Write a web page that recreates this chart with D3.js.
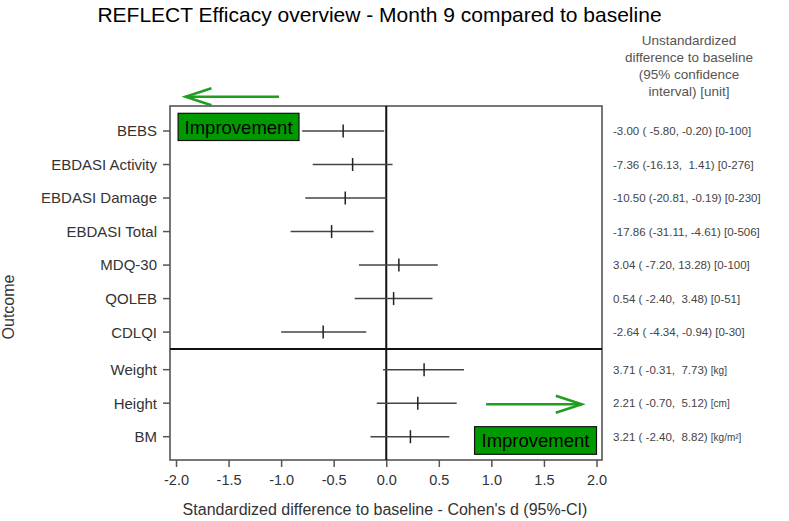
<!DOCTYPE html>
<html><head><meta charset="utf-8">
<script src="https://cdn.jsdelivr.net/npm/d3@7"></script>
<style>
body{margin:0;background:#fff;}
svg text{font-family:"Liberation Sans",Arial,sans-serif;}
</style></head>
<body><svg id="c" width="789" height="521"></svg>
<script>
const outcomes = ["BEBS","EBDASI Activity","EBDASI Damage","EBDASI Total","MDQ-30","QOLEB","CDLQI","Weight","Height","BM"];
const groups = [0,0,0,0,0,0,0,1,1,1];
const estimate = [-0.41,-0.32,-0.39,-0.52,0.12,0.07,-0.60,0.36,0.30,0.23];
const ciLow  = [-0.80,-0.70,-0.77,-0.91,-0.26,-0.30,-1.00,-0.03,-0.09,-0.15];
const ciHigh = [-0.02,0.06,0.00,-0.12,0.49,0.44,-0.19,0.74,0.67,0.60];
const unstdText = ["-3.00 ( -5.80, -0.20) [0-100]","-7.36 (-16.13,  1.41) [0-276]","-10.50 (-20.81, -0.19) [0-230]","-17.86 (-31.11, -4.61) [0-506]","3.04 ( -7.20, 13.28) [0-100]","0.54 ( -2.40,  3.48) [0-51]","-2.64 ( -4.34, -0.94) [0-30]","3.71 ( -0.31,  7.73) ","2.21 ( -0.70,  5.12) ","3.21 ( -2.40,  8.82) "];
const unitText = ["","","","","","","","[kg]","[cm]","[kg/m²]"];
const xTicks = [-2.0,-1.5,-1.0,-0.5,0.0,0.5,1.0,1.5,2.0];
const headerLines = ["Unstandardized","difference to baseline","(95% confidence","interval) [unit]"];

const svg = d3.select("#c");
const frame = {l:170,r:602,t:106,b:460};
const x = d3.scaleLinear().domain([-2,2]).range([176,596.5]);
const GAP = 0.12;
const pos = (i)=> i + groups[i]*GAP;
const y = d3.scaleLinear().domain([0, 9+GAP]).range([131, 436.7]);

// title
svg.append("text").attr("x",379.5).attr("y",22).attr("text-anchor","middle")
  .attr("font-size",21).attr("fill","#000").text("REFLECT Efficacy overview - Month 9 compared to baseline");

// header right
svg.append("g").selectAll("text").data(headerLines).join("text")
  .attr("x",689).attr("y",(d,i)=>[45,62,79,95.5][i]).attr("text-anchor","middle")
  .attr("font-size",13.5).attr("fill","#555").text(d=>d);

// frame
svg.append("rect").attr("x",frame.l).attr("y",frame.t).attr("width",frame.r-frame.l).attr("height",frame.b-frame.t)
  .attr("fill","none").attr("stroke","#555").attr("stroke-width",1.6);

// separator
svg.append("line").attr("x1",frame.l).attr("x2",frame.r).attr("y1",y(6.5)).attr("y2",y(6.5))
  .attr("stroke","#111").attr("stroke-width",2);
// zero line
svg.append("line").attr("x1",x(0)).attr("x2",x(0)).attr("y1",frame.t).attr("y2",frame.b)
  .attr("stroke","#111").attr("stroke-width",2);

// x axis
const fmt = d=> d3.format(".1f")(d).replace("\u2212","-");
const xa = svg.append("g").attr("transform",`translate(0,${frame.b})`)
  .call(d3.axisBottom(x).tickValues(xTicks).tickFormat(fmt).tickSize(7).tickSizeOuter(0));
xa.select(".domain").remove();
xa.selectAll("line").attr("stroke","#555").attr("stroke-width",1.5);
xa.selectAll("text").attr("font-size",14.5).attr("fill","#333").attr("dy","1.0em")
  .attr("font-family","Liberation Sans, Arial, sans-serif");

svg.append("text").attr("x",385).attr("y",515).attr("text-anchor","middle")
  .attr("font-size",16).attr("fill","#333").text("Standardized difference to baseline - Cohen's d (95%-CI)");

// y axis
const yg = svg.append("g");
outcomes.forEach((o,i)=>{
  yg.append("line").attr("x1",frame.l-7).attr("x2",frame.l).attr("y1",y(pos(i))).attr("y2",y(pos(i)))
    .attr("stroke","#555").attr("stroke-width",1.5);
  yg.append("text").attr("x",157).attr("y",y(pos(i))).attr("dy","0.36em").attr("text-anchor","end")
    .attr("font-size",15).attr("fill","#333").text(o);
});
svg.append("text").attr("transform",`translate(14,${307}) rotate(-90)`).attr("text-anchor","middle")
  .attr("font-size",16).attr("fill","#333").text("Outcome");

// CI lines
const idx = d3.range(outcomes.length);
svg.append("g").selectAll("line").data(idx).join("line")
  .attr("x1",i=>x(ciLow[i])).attr("x2",i=>x(ciHigh[i]))
  .attr("y1",i=>y(pos(i))).attr("y2",i=>y(pos(i)))
  .attr("stroke","#444").attr("stroke-width",1.5);
svg.append("g").selectAll("line").data(idx).join("line")
  .attr("x1",i=>x(estimate[i])).attr("x2",i=>x(estimate[i]))
  .attr("y1",i=>y(pos(i))-6.5).attr("y2",i=>y(pos(i))+6.5)
  .attr("stroke","#222").attr("stroke-width",1.5);

// right column text
const rt = svg.append("g").selectAll("text").data(idx).join("text")
  .attr("x",613).attr("y",i=>y(pos(i))).attr("dy","0.35em")
  .attr("font-size",11.5).attr("fill","#444").attr("xml:space","preserve").style("white-space","pre");
rt.append("tspan").text(i=>unstdText[i]);
rt.append("tspan").attr("font-size",10).text(i=>unitText[i]);

// improvement annotations
const green="#1f9e1f";
function arrow(x1,x2,yy,dir){
  svg.append("line").attr("x1",x1).attr("x2",x2).attr("y1",yy).attr("y2",yy).attr("stroke",green).attr("stroke-width",2.5);
  const tip = dir<0?x1:x2;
  const back = tip - dir*26;
  svg.append("path").attr("d",`M${back},${yy-8.5}L${tip},${yy}L${back},${yy+8.5}`)
    .attr("fill","none").attr("stroke",green).attr("stroke-width",2.5);
}
arrow(x(-1.91),x(-1.02),96.7,-1);
arrow(x(0.95),x(1.86),404.3,1);

function box(x1,x2,y1,y2){
  svg.append("rect").attr("x",x1).attr("y",y1).attr("width",x2-x1).attr("height",y2-y1)
    .attr("fill","#009a00").attr("stroke","#111").attr("stroke-width",1.2);
  svg.append("text").attr("x",(x1+x2)/2).attr("y",(y1+y2)/2).attr("dy","0.36em").attr("text-anchor","middle")
    .attr("font-size",18.5).attr("fill","#000").text("Improvement");
}
box(x(-1.98),x(-0.83),113.3,140.5);
box(x(0.84),x(2.0),426.7,454.3);
</script></body></html>
